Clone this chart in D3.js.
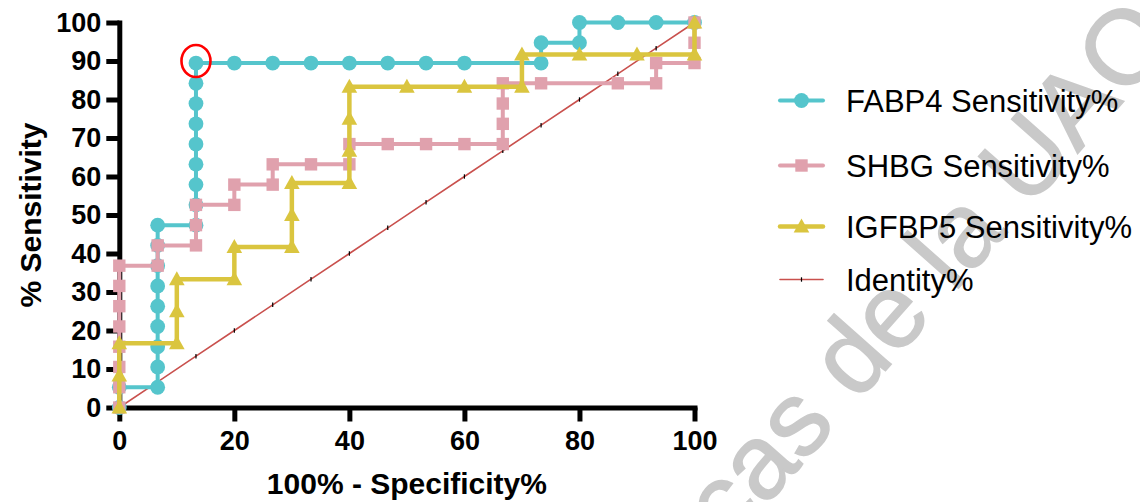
<!DOCTYPE html>
<html><head><meta charset="utf-8">
<script src="https://cdn.jsdelivr.net/npm/d3@7"></script>
<style>body{margin:0;background:#fff;overflow:hidden}svg{display:block}</style>
</head><body>
<svg id="chart" width="1140" height="502"></svg>
<script>
// ---- data ----
const xTicks = [0, 20, 40, 60, 80, 100];
const yTicks = [0, 10, 20, 30, 40, 50, 60, 70, 80, 90, 100];
const seriesNames = ["FABP4 Sensitivity%", "SHBG Sensitivity%", "IGFBP5 Sensitivity%", "Identity%"];

const fabp4X = [0, 0, 6.67, 6.67, 6.67, 6.67, 6.67, 6.67, 6.67, 6.67, 6.67, 13.33, 13.33, 13.33, 13.33, 13.33, 13.33, 13.33, 13.33, 13.33, 20, 26.67, 33.33, 40, 46.67, 53.33, 60, 73.33, 73.33, 80, 80, 86.67, 93.33, 100];
const fabp4Y = [0, 5.26, 5.26, 10.53, 15.79, 21.05, 26.32, 31.58, 36.84, 42.11, 47.37, 47.37, 52.63, 57.89, 63.16, 68.42, 73.68, 78.95, 84.21, 89.47, 89.47, 89.47, 89.47, 89.47, 89.47, 89.47, 89.47, 89.47, 94.74, 94.74, 100, 100, 100, 100];

const shbgX = [0, 0, 0, 0, 0, 0, 0, 0, 6.67, 6.67, 13.33, 13.33, 13.33, 20, 20, 26.67, 26.67, 33.33, 40, 40, 46.67, 53.33, 60, 66.67, 66.67, 66.67, 66.67, 73.33, 86.67, 93.33, 93.33, 100, 100, 100];
const shbgY = [0, 5.26, 10.53, 15.79, 21.05, 26.32, 31.58, 36.84, 36.84, 42.11, 42.11, 47.37, 52.63, 52.63, 57.89, 57.89, 63.16, 63.16, 63.16, 68.42, 68.42, 68.42, 68.42, 68.42, 73.68, 78.95, 84.21, 84.21, 84.21, 84.21, 89.47, 89.47, 94.74, 100];

const igfbp5X = [0, 0, 0, 10, 10, 10, 20, 20, 30, 30, 30, 40, 40, 40, 40, 50, 60, 70, 70, 80, 90, 100, 100];
const igfbp5Y = [0, 8.33, 16.67, 16.67, 25, 33.33, 33.33, 41.67, 41.67, 50, 58.33, 58.33, 66.67, 75, 83.33, 83.33, 83.33, 83.33, 91.67, 91.67, 91.67, 91.67, 100];

const identityX = [0, 6.67, 13.33, 20, 26.67, 33.33, 40, 46.67, 53.33, 60, 66.67, 73.33, 80, 86.67, 93.33, 100];
const identityY = [0, 6.67, 13.33, 20, 26.67, 33.33, 40, 46.67, 53.33, 60, 66.67, 73.33, 80, 86.67, 93.33, 100];

const highlight = { x: 13.33, y: 89.47 };
const watermarkText = "Dirección General de Bibliotecas de la UAQ";

// ---- styles ----
const colors = { fabp4: "#55c5cc", shbg: "#e0a1ad", igfbp5: "#dac53f", identity: "#c9504d" };
const FONT = "'Liberation Sans', Arial, Helvetica, sans-serif";

const svg = d3.select("#chart");
const x = d3.scaleLinear().domain([0, 100]).range([119.3, 694.5]);
const y = d3.scaleLinear().domain([0, 100]).range([407.5, 22.5]);

// watermark (behind)
svg.append("text")
  .attr("transform", "translate(1178,40) rotate(-48.5)")
  .attr("text-anchor", "end")
  .attr("font-family", FONT)
  .attr("font-size", 105)
  .attr("fill", "#c9c9c9")
  .attr("stroke", "#c9c9c9")
  .attr("stroke-width", 1.5)
  .text(watermarkText);

// axes
const yAxis = svg.append("g").attr("transform", `translate(${x(0)},0)`)
  .call(d3.axisLeft(y).tickValues(yTicks).tickSize(13).tickSizeOuter(0).tickPadding(5));
const xAxis = svg.append("g").attr("transform", `translate(0,${y(0)})`)
  .call(d3.axisBottom(x).tickValues(xTicks).tickSize(14).tickSizeOuter(0).tickPadding(9));
[xAxis, yAxis].forEach(g => {
  g.select(".domain").attr("stroke", "#000").attr("stroke-width", 5).attr("stroke-linecap", "square");
  g.selectAll(".tick line").attr("stroke", "#000").attr("stroke-width", 5);
  g.selectAll(".tick text").attr("fill", "#000").attr("font-family", FONT)
    .attr("font-weight", "bold").attr("font-size", 27);
});

// axis titles
svg.append("text").attr("x", (x(0) + x(100)) / 2).attr("y", 494)
  .attr("text-anchor", "middle").attr("font-family", FONT).attr("font-weight", "bold")
  .attr("font-size", 30).text("100% - Specificity%");
svg.append("text").attr("transform", `translate(41,${(y(0) + y(100)) / 2}) rotate(-90)`)
  .attr("text-anchor", "middle").attr("font-family", FONT).attr("font-weight", "bold")
  .attr("font-size", 30).text("% Sensitivity");

// marker shapes
const marker = {
  circle: g => g.append("circle").attr("r", 7.4),
  square: g => g.append("rect").attr("x", -6.2).attr("y", -6.2).attr("width", 12.4).attr("height", 12.4),
  triangle: g => g.append("path").attr("d", "M0,-8L7.8,6L-7.8,6Z"),
  tick: g => g.append("line").attr("y1", -2.2).attr("y2", 2.2).attr("stroke", "#000").attr("stroke-width", 1.2)
};

function drawSeries(xs, ys, color, width, shape) {
  const pts = xs.map((v, i) => [v, ys[i]]);
  const line = d3.line().x(d => x(d[0])).y(d => y(d[1]));
  svg.append("path").datum(pts).attr("d", line).attr("fill", "none")
    .attr("stroke", color).attr("stroke-width", width).attr("stroke-linejoin", "round");
  svg.append("g").selectAll("g").data(pts).join("g")
    .attr("transform", d => `translate(${x(d[0])},${y(d[1])})`)
    .attr("fill", color)
    .each(function () { marker[shape](d3.select(this)); });
}

drawSeries(identityX, identityY, colors.identity, 1.6, "tick");
drawSeries(fabp4X, fabp4Y, colors.fabp4, 4, "circle");
drawSeries(shbgX, shbgY, colors.shbg, 4, "square");
drawSeries(igfbp5X, igfbp5Y, colors.igfbp5, 4.5, "triangle");

// highlight ellipse
svg.append("ellipse").attr("cx", x(highlight.x)).attr("cy", y(highlight.y) - 2)
  .attr("rx", 14.5).attr("ry", 16).attr("fill", "none").attr("stroke", "#ff0000").attr("stroke-width", 2.6);

// legend
const legendRows = [
  { name: seriesNames[0], color: colors.fabp4, shape: "circle", w: 4, y: 100.5 },
  { name: seriesNames[1], color: colors.shbg, shape: "square", w: 4, y: 165.5 },
  { name: seriesNames[2], color: colors.igfbp5, shape: "triangle", w: 4.5, y: 226.5 },
  { name: seriesNames[3], color: colors.identity, shape: "tick", w: 1.6, y: 279.5 }
];
const lg = svg.append("g").selectAll("g").data(legendRows).join("g")
  .attr("transform", d => `translate(780,${d.y})`);
lg.append("line").attr("x1", 0).attr("x2", 43).attr("stroke", d => d.color)
  .attr("stroke-width", d => d.w).attr("stroke-linecap", "round");
lg.append("g").attr("transform", "translate(21.5,0)").attr("fill", d => d.color)
  .each(function (d) { marker[d.shape](d3.select(this)); });
lg.append("text").attr("x", 66).attr("y", 11).attr("font-family", FONT)
  .attr("font-size", 31).attr("fill", "#000").text(d => d.name);
</script>
</body></html>
